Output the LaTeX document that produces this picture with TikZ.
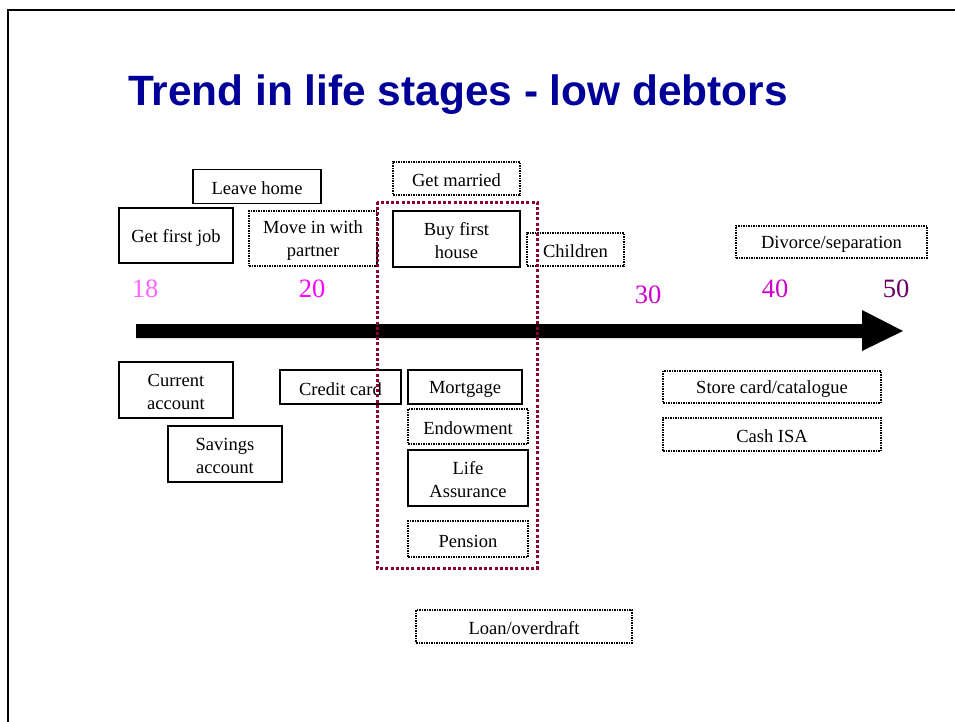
\documentclass[tikz,border=0pt]{standalone}
\usepackage{fontspec}
\setmainfont{Liberation Serif}
\newfontfamily\titlefont{Liberation Sans}
\definecolor{titleblue}{RGB}{0,0,153}
\definecolor{groupred}{RGB}{140,0,45}
\definecolor{ageA}{RGB}{255,102,255}
\definecolor{ageB}{RGB}{255,0,255}
\definecolor{ageC}{RGB}{204,0,204}
\definecolor{ageD}{RGB}{102,0,102}
\tikzset{
  x=1pt, y=-1pt,
  solidbox/.style={draw=black, line width=1.2pt, fill=white, inner sep=0pt,
    align=center, text height=17pt, font=\fontsize{18.5}{23}\selectfont},
  dotbox/.style={solidbox, fill=none, line width=1.4pt,
    dash pattern=on 2pt off 1pt on 1pt off 1pt},
  twoline/.style={text height=40pt},
  age/.style={anchor=base, inner sep=0pt, font=\fontsize{26.5}{30}\selectfont},
}
\begin{document}
\begin{tikzpicture}
\useasboundingbox (0,0) rectangle (955,722);
% page frame
\draw[line width=1.5pt] (8,722) -- (8,10) -- (955,10);
% title
\node[anchor=base west, inner sep=0pt, text=titleblue,
  font=\titlefont\bfseries\fontsize{42.4}{50}\selectfont] (title) at (128,106)
  {Trend in life stages - low debtors};
% time line
\coordinate (tstart) at (136,331);
\coordinate (tend) at (903,331);
\fill[black] (136,324) -- (862,324) -- (862,310) -- (tend) -- (862,351)
  -- (862,338) -- (136,338) -- cycle;
% ages
\node[age, text=ageA] (a18) at (145,297) {18};
\node[age, text=ageB] (a20) at (312,297) {20};
\node[age, text=ageC] (a30) at (648,303) {30};
\node[age, text=ageC] (a40) at (775,297) {40};
\node[age, text=ageD] (a50) at (896,297) {50};
% life events above the line
\node[solidbox, minimum width=128, minimum height=34] (leave) at (257,186.5) {Leave home};
\node[solidbox, minimum width=114, minimum height=55] (job) at (176,235.5) {Get first job};
\node[dotbox, twoline, minimum width=128, minimum height=55] (move) at (313,238.5) {Move in with\\partner};
\node[dotbox, minimum width=127, minimum height=33] (married) at (456.5,178.5) {Get married};
\node[solidbox, twoline, minimum width=127, minimum height=56] (house) at (456.5,239) {Buy first\\house};
\node[dotbox, minimum width=97, minimum height=33] (children) at (575.5,249.5) {Children};
\node[dotbox, minimum width=191, minimum height=32] (divorce) at (831.5,242) {Divorce/separation};
% products below the line
\node[solidbox, twoline, minimum width=114, minimum height=56] (current) at (176,390) {Current\\account};
\node[solidbox, twoline, minimum width=114, minimum height=56] (savings) at (225,454) {Savings\\account};
\node[solidbox, minimum width=121, minimum height=34] (credit) at (340.5,387) {Credit card};
\node[solidbox, minimum width=114, minimum height=34] (mortgage) at (465,387) {Mortgage};
\node[dotbox, minimum width=120, minimum height=35] (endow) at (468,426.5) {Endowment};
\node[solidbox, twoline, minimum width=120, minimum height=56] (life) at (468,478) {Life\\Assurance};
\node[dotbox, minimum width=120, minimum height=36] (pension) at (468,539) {Pension};
\node[dotbox, minimum width=218, minimum height=32] (store) at (772,387) {Store card/catalogue};
\node[dotbox, minimum width=218, minimum height=33] (cash) at (772,434.5) {Cash ISA};
\node[dotbox, minimum width=216, minimum height=33] (loan) at (524,626.5) {Loan/overdraft};
% house-buying group
\draw[groupred, line width=3pt, dash pattern=on 3pt off 2.2pt]
  (377,202) rectangle (537,568);
\end{tikzpicture}
\end{document}
